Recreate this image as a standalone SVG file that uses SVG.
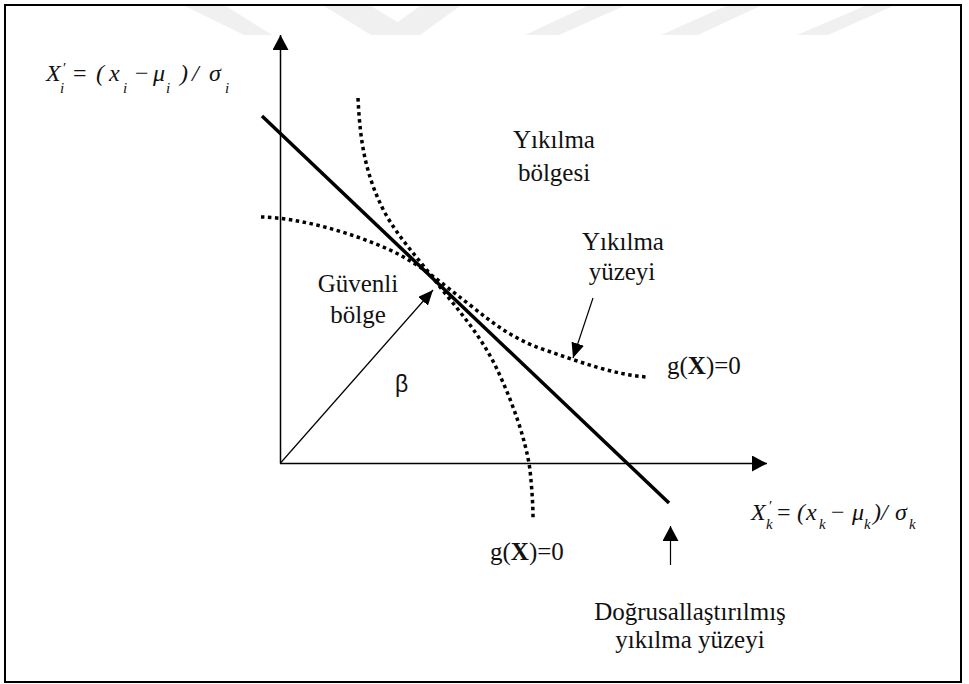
<svg xmlns="http://www.w3.org/2000/svg" width="969" height="684" viewBox="0 0 969 684">
<style>
.lbl{font-family:"Liberation Serif","Times New Roman",serif;font-size:25px;fill:#111}
.mth{font-family:"Liberation Serif","Times New Roman",serif;font-style:italic;font-size:24px;fill:#111}
.up{font-style:normal}
.sub{font-size:15px}
.axis{stroke:#000;stroke-width:1.5;fill:none}
.thin{stroke:#000;stroke-width:1.2;fill:none}
.dot{stroke:#000;stroke-width:3.5;fill:none;stroke-dasharray:3.5 3.5}
.wm{fill:#f0f0f0}
</style>
<defs>
<marker id="big" viewBox="0 0 15 16" refX="15" refY="8" markerWidth="15" markerHeight="16" markerUnits="userSpaceOnUse" orient="auto"><path d="M0,0 L15,8 L0,16 z" fill="#000"/></marker>
<marker id="small" viewBox="0 0 15 13" refX="15" refY="6.5" markerWidth="15" markerHeight="13" markerUnits="userSpaceOnUse" orient="auto"><path d="M0,0 L15,6.5 L0,13 z" fill="#000"/></marker>
</defs>
<rect width="969" height="684" fill="#fff"/>
<g id="watermark">
<polygon class="wm" points="185,6 226,6 272,35 244,35"/>
<polygon class="wm" points="324,6 371,6 397.5,22.3 420,6 460,6 420,35 371,35"/>
<polygon class="wm" points="587,6 624,6 559,35 525,35"/>
<polygon class="wm" points="726,6 760,6 698,35 661,35"/>
<polygon class="wm" points="865,6 893,6 828,35 797,35"/>
</g>
<rect id="frame" x="5" y="5" width="956" height="677" fill="none" stroke="#000" stroke-width="2"/>
<g id="connectors">
<line id="axis-y" class="axis" x1="280.5" y1="463.5" x2="280.5" y2="35" marker-end="url(#big)"/>
<line id="axis-x" class="axis" x1="280" y1="463.5" x2="767" y2="463.5" marker-end="url(#big)"/>
<line id="beta-arrow" class="thin" x1="280.5" y1="463" x2="433" y2="290" marker-end="url(#small)"/>
<line id="surface-arrow" class="thin" x1="593" y1="298" x2="573" y2="358" marker-end="url(#small)"/>
<line id="linear-arrow" class="thin" x1="670.5" y1="565" x2="670.5" y2="526" marker-end="url(#big)"/>
</g>
<g id="linearized-surface">
<line x1="262" y1="116" x2="669" y2="503" stroke="#000" stroke-width="3.5"/>
</g>
<g id="failure-surface-1">
<path class="dot" d="M358,98 C360,140 365,175 385,213 C400,240 420,260 440,287 C460,312 480,335 495,365 C512,400 526,440 530,470 C532,490 533,505 533,518"/>
</g>
<g id="failure-surface-2">
<path class="dot" d="M261,217 C300,218 350,232 390,250 C420,264 440,282 470,305 C495,325 515,340 545,350 C580,362 615,375 647,377"/>
</g>
<g id="label-y-axis">
<text class="mth" y="81"><tspan x="46">X</tspan><tspan x="63" y="73" class="sub up">′</tspan><tspan x="60" y="93" class="sub">i</tspan><tspan x="73" y="81" class="up">=</tspan><tspan x="96">(</tspan><tspan x="109">x</tspan><tspan x="123" y="93" class="sub">i</tspan><tspan x="135" y="81" class="up">−</tspan><tspan x="153">μ</tspan><tspan x="166" y="93" class="sub">i</tspan><tspan x="180" y="81">)</tspan><tspan x="192">/</tspan><tspan x="209">σ</tspan><tspan x="225" y="93" class="sub">i</tspan></text>
</g>
<g id="label-x-axis">
<text class="mth" y="520"><tspan x="751">X</tspan><tspan x="769" y="511" class="sub up">′</tspan><tspan x="766" y="529" class="sub">k</tspan><tspan x="777" y="520" class="up">=</tspan><tspan x="797">(</tspan><tspan x="806">x</tspan><tspan x="819" y="529" class="sub">k</tspan><tspan x="831" y="520" class="up">−</tspan><tspan x="852">μ</tspan><tspan x="864" y="529" class="sub">k</tspan><tspan x="873" y="520">)</tspan><tspan x="881">/</tspan><tspan x="895">σ</tspan><tspan x="909" y="529" class="sub">k</tspan></text>
</g>
<g id="failure-region">
<text class="lbl" x="554" y="148" text-anchor="middle">Yıkılma</text>
<text class="lbl" x="554" y="181" text-anchor="middle">bölgesi</text>
</g>
<g id="safe-region">
<text class="lbl" x="358" y="292" text-anchor="middle">Güvenli</text>
<text class="lbl" x="358" y="323" text-anchor="middle">bölge</text>
</g>
<g id="failure-surface-label">
<text class="lbl" x="623" y="250" text-anchor="middle">Yıkılma</text>
<text class="lbl" x="622" y="280" text-anchor="middle">yüzeyi</text>
</g>
<g id="beta-label">
<text x="395" y="392" style="font-family:'Liberation Sans',Arial,sans-serif;font-size:23px;fill:#111">β</text>
</g>
<g id="g-label-right">
<text class="lbl" x="667" y="374">g(<tspan font-weight="bold">X</tspan>)=0</text>
</g>
<g id="g-label-bottom">
<text class="lbl" x="490" y="560">g(<tspan font-weight="bold">X</tspan>)=0</text>
</g>
<g id="linearized-label">
<text class="lbl" x="690" y="620" text-anchor="middle">Doğrusallaştırılmış</text>
<text class="lbl" x="690" y="648" text-anchor="middle">yıkılma yüzeyi</text>
</g>
</svg>
